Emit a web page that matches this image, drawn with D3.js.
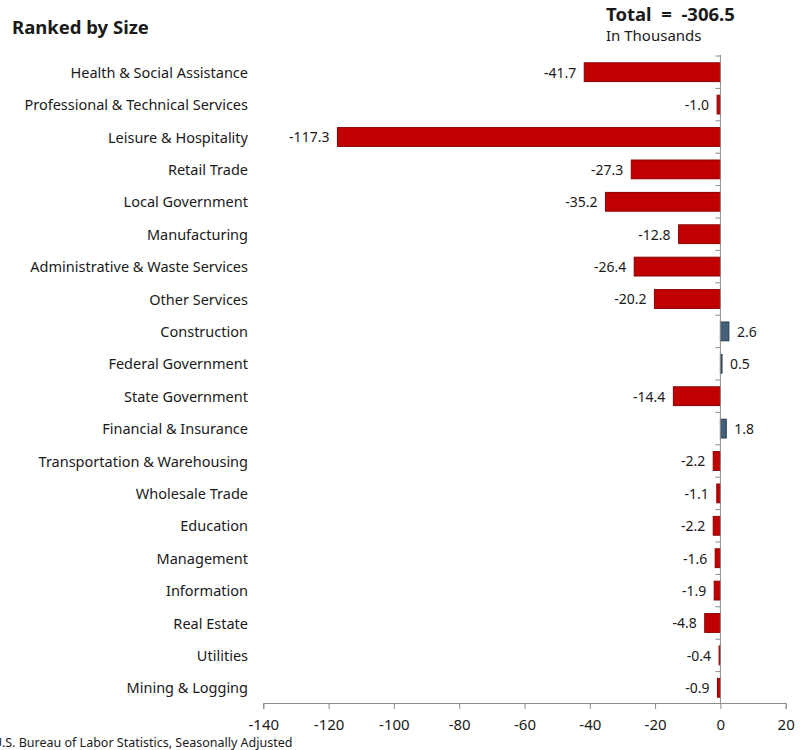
<!DOCTYPE html>
<html lang="en">
<head>
    <meta charset="UTF-8">
    <title>Ranked by Size</title>
    <script src="https://d3js.org/d3.v7.min.js"></script>
    <style>
        body {
            margin: 0;
            background-color: #ffffff;
            font-family: "Noto Sans", "Open Sans", sans-serif;
        }
        svg text { fill: #1a1a1a; white-space: pre; }
    </style>
</head>
<body>
    <div id="chart"></div>

    <script>
        // industries, top to bottom
        const industries = [
            "Health & Social Assistance",
            "Professional & Technical Services",
            "Leisure & Hospitality",
            "Retail Trade",
            "Local Government",
            "Manufacturing",
            "Administrative & Waste Services",
            "Other Services",
            "Construction",
            "Federal Government",
            "State Government",
            "Financial & Insurance",
            "Transportation & Warehousing",
            "Wholesale Trade",
            "Education",
            "Management",
            "Information",
            "Real Estate",
            "Utilities",
            "Mining & Logging"
        ];
        // change, in thousands
        const changes = [-41.7, -1.0, -117.3, -27.3, -35.2, -12.8, -26.4, -20.2, 2.6, 0.5,
                         -14.4, 1.8, -2.2, -1.1, -2.2, -1.6, -1.9, -4.8, -0.4, -0.9];
        const xTicks = [-140, -120, -100, -80, -60, -40, -20, 0, 20];
        const totalChange = -306.5;

        const width = 806;
        const height = 750;

        const svg = d3.select("#chart")
            .append("svg")
            .attr("width", width)
            .attr("height", height);

        const x = d3.scaleLinear()
            .domain([-140, 20])
            .range([263.3, 785.7]);

        const y = d3.scaleBand()
            .domain(industries)
            .range([56, 704])
            .paddingInner(0.42)
            .paddingOuter(0.21);

        const rows = industries.map((name, i) => ({ name: name, value: changes[i] }));

        // titles
        svg.append("text")
            .attr("x", 12)
            .attr("y", 34)
            .attr("font-size", 18.5)
            .attr("font-weight", "bold")
            .text("Ranked by Size");

        svg.append("text")
            .attr("x", 606)
            .attr("y", 21)
            .attr("font-size", 18.5)
            .attr("font-weight", "bold")
            .text("Total  =  " + totalChange.toFixed(1));

        svg.append("text")
            .attr("x", 606)
            .attr("y", 41)
            .attr("font-size", 15)
            .text("In Thousands");

        // bars
        svg.append("g")
            .selectAll("rect")
            .data(rows)
            .enter()
            .append("rect")
            .attr("x", d => x(Math.min(0, d.value)))
            .attr("y", d => y(d.name))
            .attr("width", d => Math.abs(x(d.value) - x(0)))
            .attr("height", y.bandwidth())
            .attr("fill", d => d.value < 0 ? "#c00000" : "#44607a")
            .attr("stroke", d => d.value < 0 ? "#8a0000" : "#2a3b4c")
            .attr("stroke-width", 1);

        // value labels
        svg.append("g")
            .selectAll("text")
            .data(rows)
            .enter()
            .append("text")
            .attr("x", d => d.value < 0 ? x(d.value) - 8 : x(d.value) + 8)
            .attr("y", d => y(d.name) + y.bandwidth() / 2)
            .attr("dy", "0.38em")
            .attr("text-anchor", d => d.value < 0 ? "end" : "start")
            .attr("font-size", 14)
            .text(d => d.value.toFixed(1));

        // category labels
        svg.append("g")
            .selectAll("text")
            .data(rows)
            .enter()
            .append("text")
            .attr("x", 248)
            .attr("y", d => y(d.name) + y.bandwidth() / 2)
            .attr("dy", "0.38em")
            .attr("text-anchor", "end")
            .attr("font-size", 14.5)
            .text(d => d.name);

        // vertical zero line with ticks between categories
        const boundaries = d3.range(industries.length).map(i => 56 + i * (648 / industries.length));
        const zeroAxis = svg.append("g").attr("stroke", "#8c8c8c");
        zeroAxis.append("line")
            .attr("x1", x(0)).attr("x2", x(0))
            .attr("y1", 55).attr("y2", 703);
        zeroAxis.selectAll(".vtick")
            .data(boundaries)
            .enter()
            .append("line")
            .attr("x1", x(0) - 5).attr("x2", x(0))
            .attr("y1", d => d).attr("y2", d => d);

        // bottom axis
        const xAxis = d3.axisBottom(x)
            .tickValues(xTicks)
            .tickSize(6)
            .tickPadding(10)
            .tickFormat(d3.format("d"));

        const gx = svg.append("g")
            .attr("transform", "translate(0,703)")
            .call(xAxis);
        gx.select(".domain").attr("stroke", "#8c8c8c");
        gx.selectAll(".tick line").attr("stroke", "#8c8c8c");
        gx.selectAll(".tick text")
            .attr("font-size", 15)
            .attr("font-family", "\"Noto Sans\", sans-serif")
            .attr("fill", "#1a1a1a")
            .text(d => d < 0 ? "-" + Math.abs(d) : d);

        // source note
        svg.append("text")
            .attr("x", -7)
            .attr("y", 747)
            .attr("font-size", 12.5)
            .text("U.S. Bureau of Labor Statistics, Seasonally Adjusted");
    </script>
</body>
</html>
